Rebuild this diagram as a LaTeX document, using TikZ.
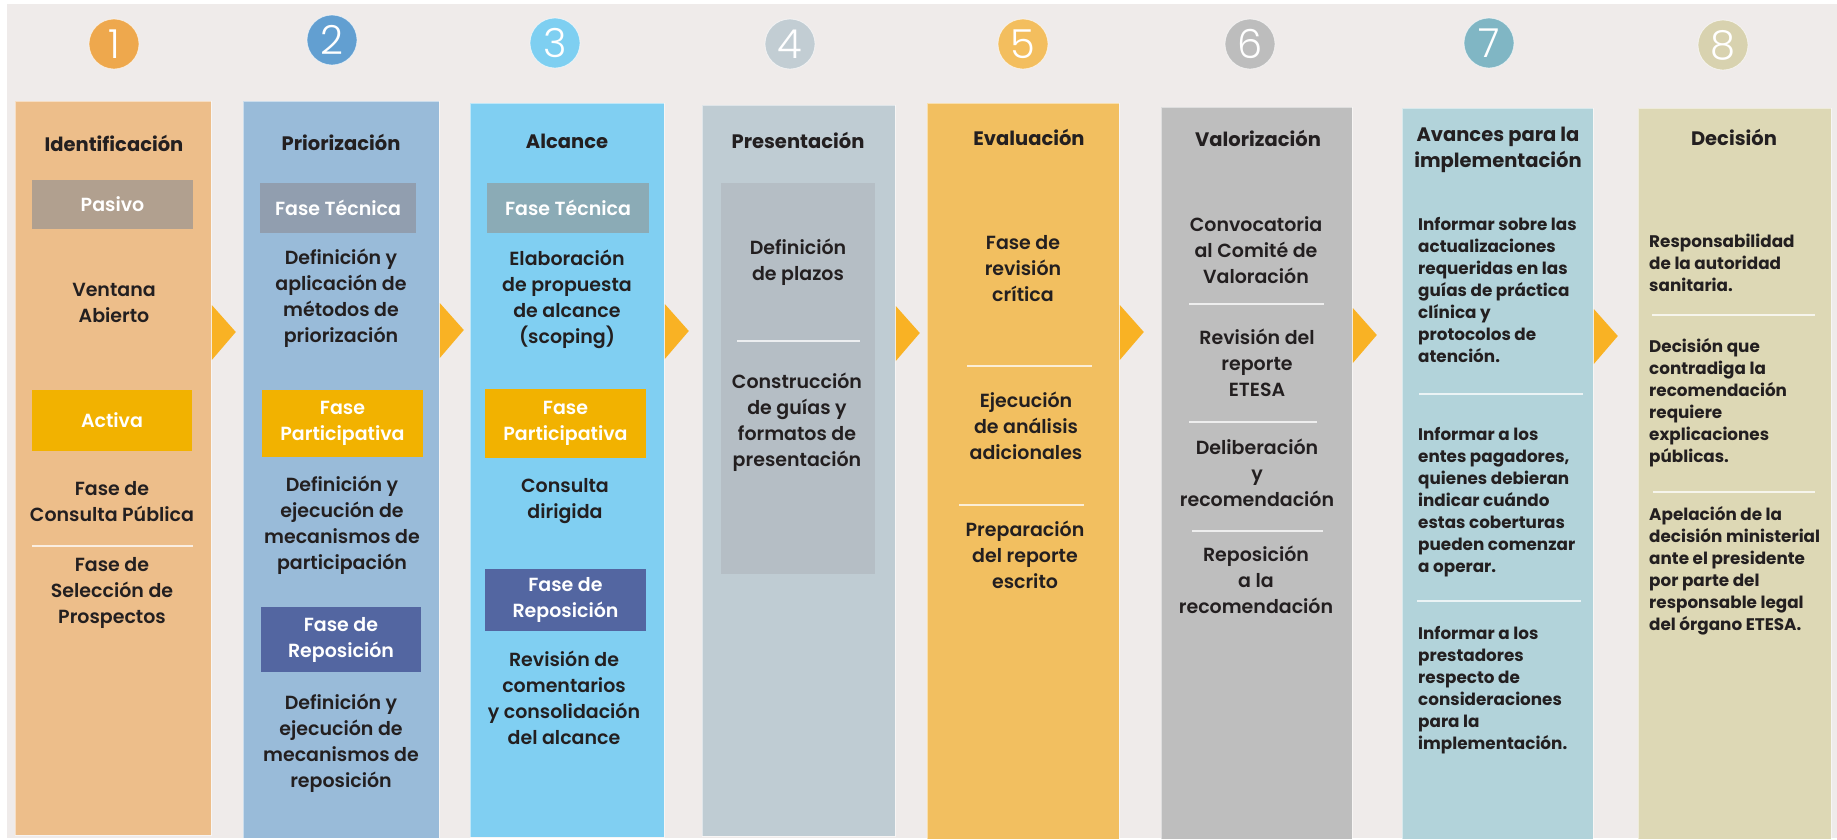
\documentclass[tikz,border=0pt]{standalone}
\usepackage{fontspec}
\setmainfont{Poppins}
\newfontfamily\pmed{Poppins Medium}
\newfontfamily\psemi{Poppins SemiBold}
\newfontfamily\pbold{Poppins Bold}
\newfontfamily\plight{Poppins Light}
\usetikzlibrary{calc}
\definecolor{bgc}{HTML}{EFEBEA}
\definecolor{txt}{HTML}{231F20}
\definecolor{arr}{HTML}{F9B224}
\definecolor{colA}{HTML}{EDBE8A}\definecolor{cirA}{HTML}{EEA84D}
\definecolor{colB}{HTML}{99BBD9}\definecolor{cirB}{HTML}{629FD1}
\definecolor{colC}{HTML}{80CFF2}\definecolor{cirC}{HTML}{7ECFF1}
\definecolor{colD}{HTML}{BFCCD3}\definecolor{cirD}{HTML}{C2CDD3}\definecolor{inD}{HTML}{B5BEC5}
\definecolor{colE}{HTML}{F2BF60}\definecolor{cirE}{HTML}{F3BE5E}
\definecolor{colF}{HTML}{BEBEBE}\definecolor{cirF}{HTML}{BDBDBD}
\definecolor{colG}{HTML}{B2D3DA}\definecolor{cirG}{HTML}{80B6C4}
\definecolor{colH}{HTML}{DDD8B5}\definecolor{cirH}{HTML}{D8D2AF}
\definecolor{pasivoc}{HTML}{B1A08F}
\definecolor{tecB}{HTML}{919EAF}
\definecolor{tecC}{HTML}{8BABB6}
\definecolor{partc}{HTML}{F2B200}
\definecolor{repoc}{HTML}{5366A1}
\tikzset{
  colbox/.style={draw=white, draw opacity=0.5, line width=0.8pt, rectangle, anchor=north west, inner sep=0pt},
  numcirc/.style={circle, draw=white, draw opacity=0.6, line width=0.8pt, minimum size=50pt, inner sep=0pt, text=white, font=\plight\fontsize{40}{40}\selectfont},
  ttl/.style={text=txt, align=center, inner sep=0pt, font=\pbold\fontsize{19.5}{26}\selectfont},
  body/.style={text=txt, align=center, inner sep=0pt, font=\psemi\fontsize{19}{26}\selectfont},
  small/.style={text=txt, align=left, anchor=west, inner sep=0pt, font=\pbold\fontsize{16.8}{22}\selectfont},
  tag/.style={rectangle, inner sep=0pt, text=white, align=center, font=\psemi\fontsize{19}{26}\selectfont},
  sep/.style={draw=white, draw opacity=0.75, line width=2.5pt},
  tri/.style={fill=arr, draw=none}
}
\begin{document}
\begin{tikzpicture}[x=1pt,y=-1pt]
\useasboundingbox (0,0) rectangle (1837,839);
\fill[white] (0,0) rectangle (1837,839);
\fill[bgc] (7,4) rectangle (1837,838);

% columns
\node[colbox, fill=colA, minimum width=196pt, minimum height=734pt] (c1) at (15,101) {};
\node[colbox, fill=colB, minimum width=196pt, minimum height=737pt] (c2) at (243,101) {};
\node[colbox, fill=colC, minimum width=194pt, minimum height=734pt] (c3) at (470,103) {};
\node[colbox, fill=colD, minimum width=193pt, minimum height=731pt] (c4) at (702,105) {};
\node[colbox, fill=colE, minimum width=192pt, minimum height=736pt] (c5) at (927,103) {};
\node[colbox, fill=colF, minimum width=191pt, minimum height=732pt] (c6) at (1161,107) {};
\node[colbox, fill=colG, minimum width=191pt, minimum height=731pt] (c7) at (1402,108) {};
\node[colbox, fill=colH, minimum width=193pt, minimum height=731pt] (c8) at (1638,108) {};

% arrows between columns
\foreach \a/\b/\dy in {c1/c2/0,c2/c3/-2,c3/c4/-3,c4/c5/-3,c5/c6/-2,c6/c7/-3,c7/c8/-3}{
  \fill[tri] ($(\a.north east)+(0,204+\dy)$) -- ($(\a.north east)+(24,231+\dy)$) -- ($(\a.north east)+(0,259+\dy)$) -- cycle;
}

% number circles
\node[numcirc, fill=cirA] (n1) at (114,44) {1};
\node[numcirc, fill=cirB] (n2) at (332,40) {2};
\node[numcirc, fill=cirC] (n3) at (555,43) {3};
\node[numcirc, fill=cirD] (n4) at (790,44) {4};
\node[numcirc, fill=cirE] (n5) at (1023,44) {5};
\node[numcirc, fill=cirF] (n6) at (1250,44) {6};
\node[numcirc, fill=cirG] (n7) at (1489,43) {7};
\node[numcirc, fill=cirH] (n8) at (1723,45) {8};

% column 1
\node[ttl] (t1) at (114,143) {Identificación};
\node[tag, fill=pasivoc, minimum width=161pt, minimum height=49pt] (pas) at (112.5,204.5) {Pasivo};
\node[body] (a1) at (114,303) {Ventana\\Abierto};
\node[tag, fill=partc, minimum width=160pt, minimum height=61pt] (act) at (112,420.5) {Activa};
\node[body] (a2) at (112,502) {Fase de\\Consulta Pública};
\draw[sep] (32,546) -- (193,546);
\node[body] (a3) at (112,593) {Fase de\\Selección de\\Prospectos};

% column 2
\node[ttl] (t2) at (341,142) {Priorización};
\node[tag, fill=tecB, minimum width=156pt, minimum height=50pt] (b1t) at (338,208) {Fase Técnica};
\node[body] (b1) at (341,298) {Definición y\\aplicación de\\métodos de\\priorización};
\node[tag, fill=partc, minimum width=161pt, minimum height=67pt] (b2t) at (342.5,423.5) {Fase\\Participativa};
\node[body] (b2) at (342,525.5) {Definición y\\ejecución de\\mecanismos de\\participación};
\node[tag, fill=repoc, minimum width=160pt, minimum height=65pt] (b3t) at (341,639.5) {Fase de\\Reposición};
\node[body] (b3) at (341,743.5) {Definición y\\ejecución de\\mecanismos de\\reposición};

% column 3
\node[ttl] (t3) at (567,141) {Alcance};
\node[tag, fill=tecC, minimum width=162pt, minimum height=50pt] (c1t) at (568,208) {Fase Técnica};
\node[body] (cc1) at (567,299.5) {Elaboración\\de propuesta\\de alcance\\(scoping)};
\node[tag, fill=partc, minimum width=161pt, minimum height=69pt] (c2t) at (565.5,423.5) {Fase\\Participativa};
\node[body] (cc2) at (565,501) {Consulta\\dirigida};
\node[tag, fill=repoc, minimum width=161pt, minimum height=62pt] (c3t) at (565.5,600) {Fase de\\Reposición};
\node[body] (cc3) at (564,697.5) {Revisión de\\comentarios\\y consolidación\\del alcance};

% column 4
\node[ttl] (t4) at (798,140) {Presentación};
\node[rectangle, fill=inD, anchor=north west, minimum width=154pt, minimum height=391pt, inner sep=0pt] (d0) at (721,183) {};
\node[body] (d1) at (798,262.5) {Definición\\de plazos};
\draw[sep] (737,341) -- (860,341);
\node[body] (d2) at (797,422) {Construcción\\de guías y\\formatos de\\presentación};

% column 5
\node[ttl] (t5) at (1029,137) {Evaluación};
\node[body] (e1) at (1023,269) {Fase de\\revisión\\crítica};
\draw[sep] (967,366) -- (1092,366);
\node[body] (e2) at (1026,426) {Ejecución\\de análisis\\adicionales};
\draw[sep] (959,505) -- (1084,505);
\node[body] (e3) at (1025,555) {Preparación\\del reporte\\escrito};

% column 6
\node[ttl] (t6) at (1258,138) {Valorización};
\node[body] (f1) at (1256,250) {Convocatoria\\al Comité de\\Valoración};
\draw[sep] (1189,304) -- (1324,304);
\node[body] (f2) at (1257,362.5) {Revisión del\\reporte\\ETESA};
\draw[sep] (1189,422) -- (1317,422);
\node[body] (f3) at (1257,472.5) {Deliberación\\y\\recomendación};
\draw[sep] (1192,531) -- (1323,531);
\node[body] (f4) at (1256,579.5) {Reposición\\a la\\recomendación};

% column 7
\node[ttl] (t7) at (1498,150) {Avances para la\\implementación};
\node[small] (g1) at (1418,289.5) {Informar sobre las\\actualizaciones\\requeridas en las\\guías de práctica\\clínica y\\protocolos de\\atención.};
\draw[sep] (1419,394) -- (1583,394);
\node[small] (g2) at (1418,502.5) {Informar a los\\entes pagadores,\\quienes debieran\\indicar cuándo\\estas coberturas\\pueden comenzar\\a operar.};
\draw[sep] (1417,601) -- (1581,601);
\node[small] (g3) at (1418,690) {Informar a los\\prestadores\\respecto de\\consideraciones\\para la\\implementación.};

% column 8
\node[ttl] (t8) at (1734,137) {Decisión};
\node[small] (h1) at (1649,262.5) {Responsabilidad\\de la autoridad\\sanitaria.};
\draw[sep] (1652,315) -- (1815,315);
\node[small] (h2) at (1649,403) {Decisión que\\contradiga la\\recomendación\\requiere\\explicaciones\\públicas.};
\draw[sep] (1653,492) -- (1815,492);
\node[small] (h3) at (1649,571) {Apelación de la\\decisión ministerial\\ante el presidente\\por parte del\\responsable legal\\del órgano ETESA.};
\end{tikzpicture}
\end{document}
